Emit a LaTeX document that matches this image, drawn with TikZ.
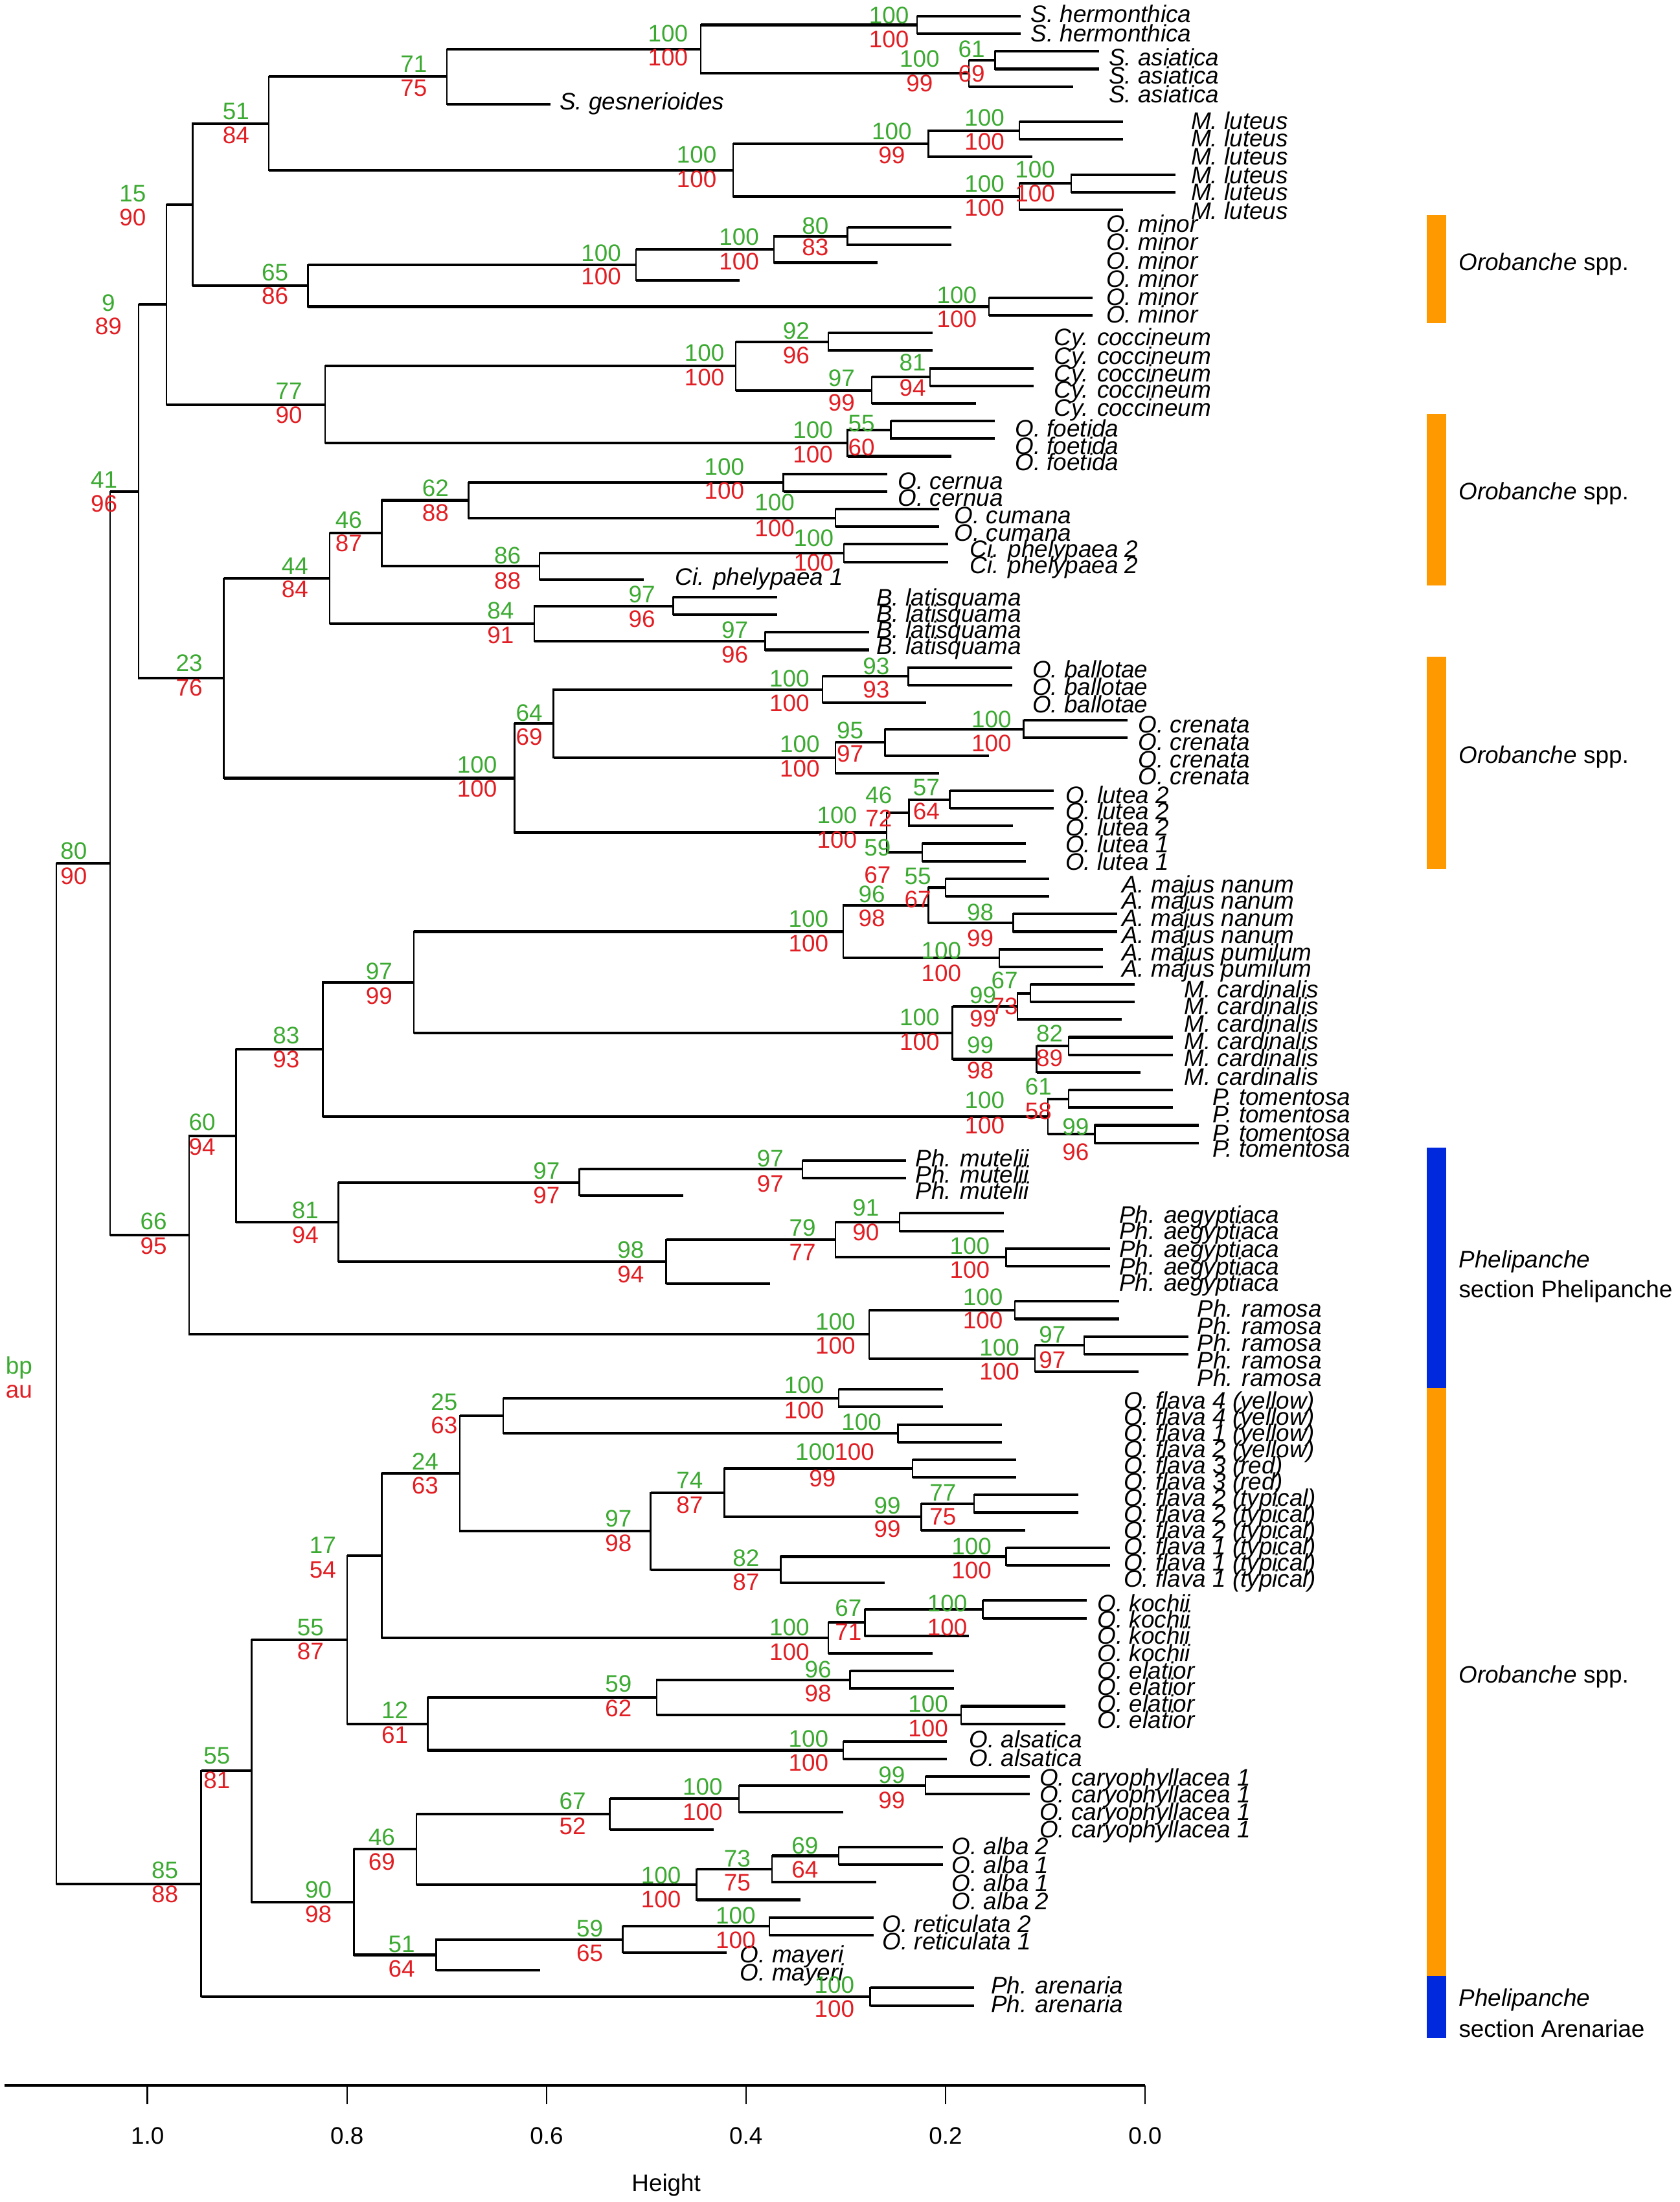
\documentclass[tikz,border=0pt]{standalone}
\usepackage{fontspec}
\setmainfont{Liberation Sans}
\definecolor{bpgreen}{RGB}{60,170,50}
\definecolor{aured}{RGB}{225,30,35}
\definecolor{orobar}{RGB}{255,153,0}
\definecolor{phebar}{RGB}{0,40,220}
\newcommand\mkpt[3]{\coordinate (#1) at (#2,{11.5+12.536*#3});}
\newcommand\bpl[6]{\node[bpg] (#1g) at (#2,#3) {#5};\node[aur] (#1r) at (#2,#4) {#6};}
\begin{document}
\begin{tikzpicture}[x=1pt,y=-1pt,
  hbr/.style={line width=1.9pt},
  vbr/.style={line width=1.15pt, line cap=rect},
  numtxt/.style={font=\fontsize{17}{17}\selectfont, inner sep=0pt, text height=12.2pt, text depth=0pt},
  bpg/.style={numtxt, text=bpgreen, anchor=center},
  aur/.style={numtxt, text=aured, anchor=center},
  taxon/.style={numtxt, font=\fontsize{17}{17}\selectfont\itshape, anchor=west},
  grp/.style={numtxt, anchor=west},
  axl/.style={numtxt, anchor=center}]
\useasboundingbox (0,0) rectangle (1196,1568);
% ---------- internal nodes (x, leaf-index position)
\mkpt{R}{40.2}{77.1}
\mkpt{n80}{78.4}{48.115234375}
\mkpt{n41}{98.8}{26.99609375}
\mkpt{n9}{118.6}{16.3828125}
\mkpt{n15}{137.1}{10.703125}
\mkpt{n51}{191.5}{6.09375}
\mkpt{n71}{318.1}{3.4375}
\mkpt{n100b}{499.1}{1.875}
\mkpt{nH}{652.9}{0.5}
\mkpt{nA1}{690.0}{3.25}
\mkpt{nA2}{708.5}{2.5}
\mkpt{n100a}{522.0}{8.75}
\mkpt{nL1}{661.0}{7.25}
\mkpt{nL2}{725.8}{6.5}
\mkpt{nL3}{725.8}{10.25}
\mkpt{nL4}{762.8}{9.5}
\mkpt{n65}{219.3}{15.3125}
\mkpt{nM1}{452.8}{14.125}
\mkpt{nM2}{551.0}{13.25}
\mkpt{nM3}{603.5}{12.5}
\mkpt{nM4}{704.2}{16.5}
\mkpt{n77}{231.6}{22.0625}
\mkpt{nC1}{523.8}{19.875}
\mkpt{nC2}{589.9}{18.5}
\mkpt{nC3}{620.8}{21.25}
\mkpt{nC4}{662.2}{20.5}
\mkpt{nF1}{603.5}{24.25}
\mkpt{nF2}{634.4}{23.5}
\mkpt{n23}{159.4}{37.609375}
\mkpt{n44}{234.7}{31.9375}
\mkpt{n46}{271.8}{29.375}
\mkpt{n62}{333.6}{27.5}
\mkpt{nCe}{557.8}{26.5}
\mkpt{nCu}{594.8}{28.5}
\mkpt{n86}{384.2}{31.25}
\mkpt{nCi}{601.0}{30.5}
\mkpt{n84}{380.5}{34.5}
\mkpt{nB1}{479.3}{33.5}
\mkpt{nB2}{544.8}{35.5}
\mkpt{n100c}{366.3}{43.28125}
\mkpt{n64}{394.1}{40.1875}
\mkpt{nBa1}{585.6}{38.25}
\mkpt{nBa2}{646.7}{37.5}
\mkpt{nCr1}{594.8}{42.125}
\mkpt{nCr2}{630.1}{41.25}
\mkpt{nCr3}{728.9}{40.5}
\mkpt{nLu1}{631.3}{46.375}
\mkpt{nLu2}{647.3}{45.25}
\mkpt{nLu3}{676.4}{44.5}
\mkpt{nLu4}{656.6}{47.5}
\mkpt{n66}{134.7}{69.234375}
\mkpt{n60}{168.0}{63.59375}
\mkpt{n83}{229.8}{58.6875}
\mkpt{n97a}{294.6}{54.875}
\mkpt{nAm1}{600.4}{52}
\mkpt{nAm2}{661.0}{50.5}
\mkpt{nAm3}{673.3}{49.5}
\mkpt{nAm4}{721.5}{51.5}
\mkpt{nAm5}{711.6}{53.5}
\mkpt{nMc1}{678.2}{57.75}
\mkpt{nMc2}{724.6}{56.25}
\mkpt{nMc3}{733.8}{55.5}
\mkpt{nMc4}{738.2}{59.25}
\mkpt{nMc5}{761.0}{58.5}
\mkpt{nT1}{746.2}{62.5}
\mkpt{nT2}{761.0}{61.5}
\mkpt{nT3}{779.5}{63.5}
\mkpt{n81}{240.9}{68.5}
\mkpt{n97b}{412.6}{66.25}
\mkpt{nMu}{571.4}{65.5}
\mkpt{n98}{474.4}{70.75}
\mkpt{nAe1}{594.8}{69.5}
\mkpt{nAe2}{640.6}{68.5}
\mkpt{nAe3}{716.5}{70.5}
\mkpt{nR1}{619.0}{74.875}
\mkpt{nR2}{722.7}{73.5}
\mkpt{nR3}{736.9}{76.25}
\mkpt{nR4}{772.1}{75.5}
\mkpt{n85}{143.3}{106.087890625}
\mkpt{n55b}{179.1}{99.67578125}
\mkpt{n55a}{247.1}{92.2265625}
\mkpt{n17}{271.8}{87.453125}
\mkpt{n24}{327.4}{82.78125}
\mkpt{n25}{358.3}{79.5}
\mkpt{nFl1}{597.3}{78.5}
\mkpt{nFl2}{639.3}{80.5}
\mkpt{n97c}{463.3}{86.0625}
\mkpt{n74}{515.8}{83.875}
\mkpt{nFl3}{649.8}{82.5}
\mkpt{nFl4}{656.0}{85.25}
\mkpt{nFl5}{693.7}{84.5}
\mkpt{n82}{555.9}{88.25}
\mkpt{nFl6}{716.5}{87.5}
\mkpt{nK1}{589.9}{92.125}
\mkpt{nK2}{615.8}{91.25}
\mkpt{nK3}{699.9}{90.5}
\mkpt{n12}{304.5}{97}
\mkpt{n59}{467.6}{95.5}
\mkpt{nE1}{605.3}{94.5}
\mkpt{nE2}{684.4}{96.5}
\mkpt{nAl}{600.4}{98.5}
\mkpt{n90}{252.0}{107.125}
\mkpt{n46b}{296.5}{104.125}
\mkpt{n67}{434.2}{102.125}
\mkpt{nCa1}{526.3}{101.25}
\mkpt{nCa2}{659.1}{100.5}
\mkpt{nAb1}{496.0}{106.125}
\mkpt{nAb2}{549.8}{105.25}
\mkpt{nAb3}{597.3}{104.5}
\mkpt{n51b}{310.7}{110.125}
\mkpt{n59b}{443.5}{109.25}
\mkpt{nRe}{547.9}{108.5}
\mkpt{nAr}{619.6}{112.5}
% ---------- leaves
\mkpt{l0}{726.9}{0}\mkpt{l1}{726.9}{1}\mkpt{l2}{782.5}{2}\mkpt{l3}{782.5}{3}
\mkpt{l4}{764.0}{4}\mkpt{l5}{392.1}{5}\mkpt{l6}{799.8}{6}\mkpt{l7}{799.8}{7}
\mkpt{l8}{735.0}{8}\mkpt{l9}{836.8}{9}\mkpt{l10}{836.8}{10}\mkpt{l11}{799.8}{11}
\mkpt{l12}{677.5}{12}\mkpt{l13}{677.5}{13}\mkpt{l14}{625.0}{14}\mkpt{l15}{526.8}{15}
\mkpt{l16}{778.2}{16}\mkpt{l17}{778.2}{17}\mkpt{l18}{663.9}{18}\mkpt{l19}{663.9}{19}
\mkpt{l20}{736.2}{20}\mkpt{l21}{736.2}{21}\mkpt{l22}{694.8}{22}\mkpt{l23}{708.4}{23}
\mkpt{l24}{708.4}{24}\mkpt{l25}{677.5}{25}\mkpt{l26}{631.8}{26}\mkpt{l27}{631.8}{27}
\mkpt{l28}{668.8}{28}\mkpt{l29}{668.8}{29}\mkpt{l30}{675.0}{30}\mkpt{l31}{675.0}{31}
\mkpt{l32}{458.2}{32}\mkpt{l33}{553.3}{33}\mkpt{l34}{553.3}{34}\mkpt{l35}{618.8}{35}
\mkpt{l36}{618.8}{36}\mkpt{l37}{720.7}{37}\mkpt{l38}{720.7}{38}\mkpt{l39}{659.6}{39}
\mkpt{l40}{802.9}{40}\mkpt{l41}{802.9}{41}\mkpt{l42}{704.1}{42}\mkpt{l43}{668.8}{43}
\mkpt{l44}{750.4}{44}\mkpt{l45}{750.4}{45}\mkpt{l46}{721.3}{46}\mkpt{l47}{730.6}{47}
\mkpt{l48}{730.6}{48}\mkpt{l49}{747.3}{49}\mkpt{l50}{747.3}{50}\mkpt{l51}{795.5}{51}
\mkpt{l52}{795.5}{52}\mkpt{l53}{785.6}{53}\mkpt{l54}{785.6}{54}\mkpt{l55}{807.8}{55}
\mkpt{l56}{807.8}{56}\mkpt{l57}{798.6}{57}\mkpt{l58}{835.0}{58}\mkpt{l59}{835.0}{59}
\mkpt{l60}{812.2}{60}\mkpt{l61}{835.0}{61}\mkpt{l62}{835.0}{62}\mkpt{l63}{853.5}{63}
\mkpt{l64}{853.5}{64}\mkpt{l65}{645.4}{65}\mkpt{l66}{645.4}{66}\mkpt{l67}{486.6}{67}
\mkpt{l68}{714.6}{68}\mkpt{l69}{714.6}{69}\mkpt{l70}{790.5}{70}\mkpt{l71}{790.5}{71}
\mkpt{l72}{548.4}{72}\mkpt{l73}{796.7}{73}\mkpt{l74}{796.7}{74}\mkpt{l75}{846.1}{75}
\mkpt{l76}{846.1}{76}\mkpt{l77}{810.9}{77}\mkpt{l78}{671.3}{78}\mkpt{l79}{671.3}{79}
\mkpt{l80}{713.3}{80}\mkpt{l81}{713.3}{81}\mkpt{l82}{723.8}{82}\mkpt{l83}{723.8}{83}
\mkpt{l84}{767.7}{84}\mkpt{l85}{767.7}{85}\mkpt{l86}{730.0}{86}\mkpt{l87}{790.5}{87}
\mkpt{l88}{790.5}{88}\mkpt{l89}{629.9}{89}\mkpt{l90}{773.9}{90}\mkpt{l91}{773.9}{91}
\mkpt{l92}{689.8}{92}\mkpt{l93}{663.9}{93}\mkpt{l94}{679.3}{94}\mkpt{l95}{679.3}{95}
\mkpt{l96}{758.4}{96}\mkpt{l97}{758.4}{97}\mkpt{l98}{674.4}{98}\mkpt{l99}{674.4}{99}
\mkpt{l100}{733.1}{100}\mkpt{l101}{733.1}{101}\mkpt{l102}{600.3}{102}\mkpt{l103}{508.2}{103}
\mkpt{l104}{671.3}{104}\mkpt{l105}{671.3}{105}\mkpt{l106}{623.8}{106}\mkpt{l107}{570.0}{107}
\mkpt{l108}{621.9}{108}\mkpt{l109}{621.9}{109}\mkpt{l110}{517.5}{110}\mkpt{l111}{384.7}{111}
\mkpt{l112}{693.6}{112}\mkpt{l113}{693.6}{113}
% ---------- branches: thin vertical part, thick horizontal part
\foreach \a/\b in {R/n80,R/n85,n80/n41,n80/n66,n41/n9,n41/n23,n9/n15,n9/n77,n15/n51,n15/n65,
 n51/n71,n51/n100a,n71/n100b,n71/l5,n100b/nH,n100b/nA1,nH/l0,nH/l1,nA1/nA2,nA1/l4,nA2/l2,nA2/l3,
 n100a/nL1,n100a/nL3,nL1/nL2,nL1/l8,nL2/l6,nL2/l7,nL3/nL4,nL3/l11,nL4/l9,nL4/l10,
 n65/nM1,n65/nM4,nM1/nM2,nM1/l15,nM2/nM3,nM2/l14,nM3/l12,nM3/l13,nM4/l16,nM4/l17,
 n77/nC1,n77/nF1,nC1/nC2,nC1/nC3,nC2/l18,nC2/l19,nC3/nC4,nC3/l22,nC4/l20,nC4/l21,
 nF1/nF2,nF1/l25,nF2/l23,nF2/l24,
 n23/n44,n23/n100c,n44/n46,n44/n84,n46/n62,n46/n86,n62/nCe,n62/nCu,nCe/l26,nCe/l27,
 nCu/l28,nCu/l29,n86/nCi,n86/l32,nCi/l30,nCi/l31,n84/nB1,n84/nB2,nB1/l33,nB1/l34,nB2/l35,nB2/l36,
 n100c/n64,n100c/nLu1,n64/nBa1,n64/nCr1,nBa1/nBa2,nBa1/l39,nBa2/l37,nBa2/l38,
 nCr1/nCr2,nCr1/l43,nCr2/nCr3,nCr2/l42,nCr3/l40,nCr3/l41,
 nLu1/nLu2,nLu1/nLu4,nLu2/nLu3,nLu2/l46,nLu3/l44,nLu3/l45,nLu4/l47,nLu4/l48,
 n66/n60,n66/nR1,n60/n83,n60/n81,n83/n97a,n83/nT1,n97a/nAm1,n97a/nMc1,
 nAm1/nAm2,nAm1/nAm5,nAm2/nAm3,nAm2/nAm4,nAm3/l49,nAm3/l50,nAm4/l51,nAm4/l52,nAm5/l53,nAm5/l54,
 nMc1/nMc2,nMc1/nMc4,nMc2/nMc3,nMc2/l57,nMc3/l55,nMc3/l56,nMc4/nMc5,nMc4/l60,nMc5/l58,nMc5/l59,
 nT1/nT2,nT1/nT3,nT2/l61,nT2/l62,nT3/l63,nT3/l64,
 n81/n97b,n81/n98,n97b/nMu,n97b/l67,nMu/l65,nMu/l66,n98/nAe1,n98/l72,
 nAe1/nAe2,nAe1/nAe3,nAe2/l68,nAe2/l69,nAe3/l70,nAe3/l71,
 nR1/nR2,nR1/nR3,nR2/l73,nR2/l74,nR3/nR4,nR3/l77,nR4/l75,nR4/l76,
 n85/n55b,n85/nAr,n55b/n55a,n55b/n90,n55a/n17,n55a/n12,n17/n24,n17/nK1,
 n24/n25,n24/n97c,n25/nFl1,n25/nFl2,nFl1/l78,nFl1/l79,nFl2/l80,nFl2/l81,
 n97c/n74,n97c/n82,n74/nFl3,n74/nFl4,nFl3/l82,nFl3/l83,nFl4/nFl5,nFl4/l86,nFl5/l84,nFl5/l85,
 n82/nFl6,n82/l89,nFl6/l87,nFl6/l88,
 nK1/nK2,nK1/l93,nK2/nK3,nK2/l92,nK3/l90,nK3/l91,
 n12/n59,n12/nAl,n59/nE1,n59/nE2,nE1/l94,nE1/l95,nE2/l96,nE2/l97,nAl/l98,nAl/l99,
 n90/n46b,n90/n51b,n46b/n67,n46b/nAb1,n67/nCa1,n67/l103,nCa1/nCa2,nCa1/l102,nCa2/l100,nCa2/l101,
 nAb1/nAb2,nAb1/l107,nAb2/nAb3,nAb2/l106,nAb3/l104,nAb3/l105,
 n51b/n59b,n51b/l111,n59b/nRe,n59b/l110,nRe/l108,nRe/l109,nAr/l112,nAr/l113}
 {\draw[vbr] (\a) -- (\a |- \b);
  \draw[hbr] (\a |- \b) -- (\b);}
% ---------- taxon labels
\foreach \y [count=\i] in {10.0,23.8} \node[taxon] (herm\i) at (733.8,\y) {S. hermonthica};
\foreach \y [count=\i] in {40.7,53.8,66.9} \node[taxon] (asia\i) at (789.4,\y) {S. asiatica};
\node[taxon] (gesn) at (398.4,72.3) {S. gesnerioides};
\foreach \y [count=\i] in {86.1,98.4,111.5,124.5,136.8,149.9} \node[taxon] (lute\i) at (848.0,\y) {M. luteus};
\foreach \y [count=\i] in {159.1,172.2,185.3,198.3,211.4,223.7} \node[taxon] (mino\i) at (787.6,\y) {O. minor};
\foreach \y [count=\i] in {239.9,253.2,265.6,277.5,290.2} \node[taxon] (cocc\i) at (750.5,\y) {Cy. coccineum};
\foreach \y [count=\i] in {304.8,317.4,329.0} \node[taxon] (foet\i) at (722.7,\y) {O. foetida};
\foreach \y [count=\i] in {342.1,354.4} \node[taxon] (cern\i) at (639.3,\y) {O. cernua};
\foreach \y [count=\i] in {366.7,379.0} \node[taxon] (cuma\i) at (679.5,\y) {O. cumana};
\foreach \y [count=\i] in {390.8,402.1} \node[taxon] (phelb\i) at (690.6,\y) {Ci. phelypaea 2};
\node[taxon] (phela) at (480.6,410.5) {Ci. phelypaea 1};
\foreach \y [count=\i] in {425.1,436.7,448.2,459.7} \node[taxon] (lati\i) at (623.9,\y) {B. latisquama};
\foreach \y [count=\i] in {476.6,488.9,501.3} \node[taxon] (ball\i) at (735.0,\y) {O. ballotae};
\foreach \y [count=\i] in {515.9,528.2,540.5,552.8} \node[taxon] (cren\i) at (810.4,\y) {O. crenata};
\foreach \y/\t [count=\i] in {565.8/2,577.4/2,588.9/2,601.2/1,613.5/1} \node[taxon] (lutea\i) at (758.5,\y) {O. lutea \t};
\foreach \y/\t [count=\i] in {629.6/nanum,641.2/nanum,653.5/nanum,665.8/nanum,678.1/pumilum,689.6/pumilum} \node[taxon] (maju\i) at (798.7,\y) {A. majus \t};
\foreach \y [count=\i] in {704.2,716.5,728.8,741.1,753.4,766.5} \node[taxon] (card\i) at (843.2,\y) {M. cardinalis};
\foreach \y [count=\i] in {781.1,793.4,806.5,818.0} \node[taxon] (tome\i) at (863.5,\y) {P. tomentosa};
\foreach \y [count=\i] in {824.9,836.4,847.9} \node[taxon] (mute\i) at (651.7,\y) {Ph. mutelii};
\foreach \y [count=\i] in {864.8,876.4,889.4,901.7,913.3} \node[taxon] (aegy\i) at (796.8,\y) {Ph. aegyptiaca};
\foreach \y [count=\i] in {931.7,944.0,956.3,968.6,980.9} \node[taxon] (ramo\i) at (852.4,\y) {Ph. ramosa};
\foreach \y/\t [count=\i] in {997.1/4 (yellow),1008.6/4 (yellow),1020.2/1 (yellow),1031.7/2 (yellow),1043.2/3 (red),1054.8/3 (red),1066.3/2 (typical),1077.8/2 (typical),1089.4/2 (typical),1100.9/1 (typical),1112.4/1 (typical),1124.0/1 (typical)} \node[taxon] (flav\i) at (800.0,\y) {O. flava \t};
\foreach \y [count=\i] in {1141.6,1153.2,1164.7,1177.0} \node[taxon] (koch\i) at (781.4,\y) {O. kochii};
\foreach \y [count=\i] in {1189.3,1200.8,1213.1,1224.7} \node[taxon] (elat\i) at (781.4,\y) {O. elatior};
\foreach \y [count=\i] in {1238.5,1251.6} \node[taxon] (alsa\i) at (690.0,\y) {O. alsatica};
\foreach \y [count=\i] in {1265.4,1277.7,1290.0,1302.5} \node[taxon] (cary\i) at (740.0,\y) {O. caryophyllacea 1};
\foreach \y/\t [count=\i] in {1314.6/2,1327.7/1,1340.8/1,1353.8/2} \node[taxon] (alba\i) at (677.6,\y) {O. alba \t};
\foreach \y/\t [count=\i] in {1370.0/2,1382.3/1} \node[taxon] (reti\i) at (628.2,\y) {O. reticulata \t};
\foreach \y [count=\i] in {1391.5,1404.5} \node[taxon] (maye\i) at (526.9,\y) {O. mayeri};
\foreach \y [count=\i] in {1413.8,1426.9} \node[taxon] (aren\i) at (705.4,\y) {Ph. arenaria};
% ---------- bp / au values
\bpl{bH}{633}{10.8}{27.7}{100}{100}
\bpl{b100b}{475.6}{23.8}{40.7}{100}{100}
\bpl{bA2}{691.8}{34.6}{52.3}{61}{69}
\bpl{bA1}{654.8}{41.5}{59.2}{100}{99}
\bpl{b71}{294.6}{45.4}{62.3}{71}{75}
\bpl{b51}{168}{79.2}{96.1}{51}{84}
\bpl{bL2}{701}{83.8}{100.7}{100}{100}
\bpl{bL1}{635}{93.5}{110.4}{100}{99}
\bpl{b100a}{496}{109.9}{127.3}{100}{100}
\bpl{bL4}{737}{120.7}{137.6}{100}{100}
\bpl{bL3}{701}{130.7}{147.6}{100}{100}
\bpl{b15}{94.5}{137.6}{154.5}{15}{90}
\bpl{bM3}{580.6}{160.7}{176.0}{80}{83}
\bpl{bM2}{526.3}{168.4}{186.0}{100}{100}
\bpl{bM1}{428}{179.9}{196.8}{100}{100}
\bpl{b65}{195.8}{193.7}{210.6}{65}{86}
\bpl{b9}{77.2}{215.3}{232.2}{9}{89}
\bpl{bM4}{681.3}{209.9}{226.8}{100}{100}
\bpl{bC2}{567}{235.2}{252.9}{92}{96}
\bpl{bC1}{501.6}{250.9}{268.3}{100}{100}
\bpl{bC4}{649.8}{258.0}{276.0}{81}{94}
\bpl{bC3}{599.2}{269.1}{286.7}{97}{99}
\bpl{b77}{205.7}{278.3}{295.2}{77}{90}
\bpl{bF2}{613.4}{301.4}{318.3}{55}{60}
\bpl{bF1}{578.8}{306.0}{323.6}{100}{100}
\bpl{bCe}{515.8}{332.1}{349.3}{100}{100}
\bpl{b41}{74.1}{341.4}{358.6}{41}{96}
\bpl{b62}{310.1}{347.5}{364.7}{62}{88}
\bpl{bCu}{551.6}{357.5}{375.9}{100}{100}
\bpl{b46}{248.3}{369.8}{386.7}{46}{87}
\bpl{bCi}{579.4}{382.9}{400.5}{100}{100}
\bpl{b86}{361.4}{395.2}{413.3}{86}{88}
\bpl{b44}{210}{402.5}{419.5}{44}{84}
\bpl{bB1}{457.1}{422.8}{440.5}{97}{96}
\bpl{b84}{356.4}{434.4}{452.1}{84}{91}
\bpl{bB2}{523.2}{448.2}{465.9}{97}{96}
\bpl{bBa2}{623.9}{474.3}{490.9}{93}{93}
\bpl{b23}{134.7}{472.0}{489.4}{23}{76}
\bpl{bBa1}{562.1}{482.8}{500.5}{100}{100}
\bpl{b64}{376.8}{507.4}{524.3}{64}{69}
\bpl{bCr3}{706}{512}{528.9}{100}{100}
\bpl{bCr2}{605.3}{519.7}{536.6}{95}{97}
\bpl{bCr1}{569.5}{529.7}{547.1}{100}{100}
\bpl{b100c}{339.7}{544.3}{561.5}{100}{100}
\bpl{bLu3}{659.7}{560.4}{577.4}{57}{64}
\bpl{bLu2}{625.7}{565.8}{582.7}{46}{72}
\bpl{bLu1}{596}{580.4}{597.8}{100}{100}
\bpl{bLu4}{624.8}{603.5}{622.7}{59}{67}
\bpl{b80}{52.5}{605.8}{623.5}{80}{90}
\bpl{bAm3}{653.5}{623.5}{640.4}{55}{67}
\bpl{bAm2}{620.8}{636.6}{653.5}{96}{98}
\bpl{bAm4}{698}{649.6}{668.1}{98}{99}
\bpl{bAm1}{575.7}{654.2}{671.6}{100}{100}
\bpl{bAm5}{670.2}{676.5}{693.0}{100}{100}
\bpl{b97a}{270}{691.2}{708.8}{97}{99}
\bpl{bMc3}{715.3}{698.1}{716.5}{67}{73}
\bpl{bMc2}{699.9}{708.5}{725}{99}{99}
\bpl{bMc1}{654.8}{724.2}{741.9}{100}{100}
\bpl{bMc5}{747.4}{735.7}{753.4}{82}{89}
\bpl{b83}{203.8}{737.0}{754.2}{83}{93}
\bpl{bMc4}{698}{744.2}{761.9}{99}{98}
\bpl{bT2}{739.4}{773.4}{791.1}{61}{58}
\bpl{bT1}{701.1}{783.4}{801.1}{100}{100}
\bpl{bT3}{766}{801.9}{820.3}{99}{96}
\bpl{b60}{143.9}{798.8}{816.5}{60}{94}
\bpl{bMu}{548.5}{824.9}{842.6}{97}{97}
\bpl{b97b}{389.2}{833.3}{851.0}{97}{97}
\bpl{bAe2}{616.5}{859.8}{877.1}{91}{90}
\bpl{b81}{217.4}{861.8}{879.0}{81}{94}
\bpl{b66}{109.3}{869.5}{887.1}{66}{95}
\bpl{bAe1}{571.4}{874.1}{891.4}{79}{77}
\bpl{bAe3}{690.6}{887.1}{904.1}{100}{100}
\bpl{b98}{449.1}{889.9}{907.4}{98}{94}
\bpl{bR2}{699.9}{923.3}{940.2}{100}{100}
\bpl{bR1}{594.8}{940.9}{957.9}{100}{100}
\bpl{bR4}{749.3}{950.2}{967.9}{97}{97}
\bpl{bR3}{711.6}{959.4}{976.3}{100}{100}
\bpl{bFl1}{572.6}{986.3}{1004.0}{100}{100}
\bpl{b25}{316.3}{997.9}{1014.8}{25}{63}
\node[bpg] (bFl2g) at (613.4,1012.5) {100};
\node[aur] (bFl2r) at (608.4,1033.5) {100};
\node[bpg] (bFl3g) at (580.6,1033.5) {100};
\node[aur] (bFl3r) at (585.6,1052.5) {99};
\bpl{b24}{302.7}{1040.6}{1057.8}{24}{63}
\bpl{b74}{491.1}{1054.0}{1071.4}{74}{87}
\bpl{bFl5}{671.4}{1062.5}{1079.7}{77}{75}
\bpl{bFl4}{631.9}{1071.7}{1088.6}{99}{99}
\bpl{b97c}{440.4}{1080.9}{1098.6}{97}{98}
\bpl{b17}{229.8}{1100.1}{1117.5}{17}{54}
\bpl{bFl6}{691.8}{1100.9}{1117.8}{100}{100}
\bpl{b82}{531.2}{1109.3}{1126.3}{82}{87}
\bpl{bK3}{674.5}{1141.6}{1158.5}{100}{100}
\bpl{bK2}{604.1}{1144.7}{1161.6}{67}{71}
\bpl{b55a}{221.1}{1158.5}{1175.5}{55}{87}
\bpl{bK1}{562.1}{1158.5}{1175.9}{100}{100}
\bpl{bE1}{582.5}{1188.5}{1205.4}{96}{98}
\bpl{b59}{440.4}{1198.5}{1216.2}{59}{62}
\bpl{bE2}{660.9}{1213.1}{1230.3}{100}{100}
\bpl{b12}{281.1}{1217.7}{1235.1}{12}{61}
\bpl{bAl}{575.7}{1237.7}{1255.0}{100}{100}
\bpl{b55b}{154.4}{1250.0}{1267.4}{55}{81}
\bpl{bCa2}{635}{1263.9}{1281.5}{99}{99}
\bpl{bCa1}{500.3}{1271.9}{1290.0}{100}{100}
\bpl{b67}{407.7}{1282.3}{1300.0}{67}{52}
\bpl{b46b}{271.8}{1308.2}{1325.4}{46}{69}
\bpl{bAb3}{573.2}{1313.8}{1331.2}{69}{64}
\bpl{bAb2}{525}{1323.1}{1340.3}{73}{75}
\bpl{b85}{117.4}{1331.5}{1348.4}{85}{88}
\bpl{bAb1}{470.7}{1335.4}{1352.3}{100}{100}
\bpl{b90}{226.7}{1345.4}{1363.0}{90}{98}
\bpl{bRe}{523.8}{1363.8}{1381.5}{100}{100}
\bpl{b59b}{420}{1373.0}{1390.7}{59}{65}
\bpl{b51b}{286}{1384.1}{1401.5}{51}{64}
\bpl{bAr}{594.2}{1413.0}{1430.0}{100}{100}
\node[bpg] (bplab) at (13.6,972.5) {bp};
\node[aur] (aulab) at (13.6,989.4) {au};
% ---------- axis
\coordinate (axL) at (3,1484.9);
\coordinate (axR) at (815.4,1484.9);
\draw[line width=1.9pt] (axL) -- (axR);
\foreach \x/\tlab [count=\i] in {105.0/1.0,247.1/0.8,389.2/0.6,531.2/0.4,673.3/0.2,815.4/0.0}{
  \coordinate (tk\i) at (\x,1484.9);
  \coordinate (tkb\i) at (\x,1498.3);
  \draw[line width=1.1pt] (tk\i) -- (tkb\i);
  \node[axl] (tl\i) at (\x,1520.5) {\tlab};
}
\node[axl] (hgt) at (474.4,1554.5) {Height};
% ---------- group bars
\fill[orobar] (1015.8,153.0) rectangle (1029.8,229.9);
\fill[orobar] (1015.8,294.6) rectangle (1029.8,416.7);
\fill[orobar] (1015.8,467.8) rectangle (1029.8,618.9);
\fill[phebar] (1015.8,817.2) rectangle (1029.8,988.5);
\fill[orobar] (1015.8,988.5) rectangle (1029.8,1407.2);
\fill[phebar] (1015.8,1407.2) rectangle (1029.8,1451.3);
\node[grp] (g1) at (1038.6,186.3) {\textit{Orobanche} spp.};
\node[grp] (g2) at (1038.6,349.7) {\textit{Orobanche} spp.};
\node[grp] (g3) at (1038.6,537.4) {\textit{Orobanche} spp.};
\node[grp] (g4a) at (1038.6,896.7) {\textit{Phelipanche}};
\node[grp] (g4b) at (1038.6,917.8) {section Phelipanche};
\node[grp] (g5) at (1038.6,1192.3) {\textit{Orobanche} spp.};
\node[grp] (g6a) at (1038.6,1422.6) {\textit{Phelipanche}};
\node[grp] (g6b) at (1038.6,1444.7) {section Arenariae};
\end{tikzpicture}
\end{document}
